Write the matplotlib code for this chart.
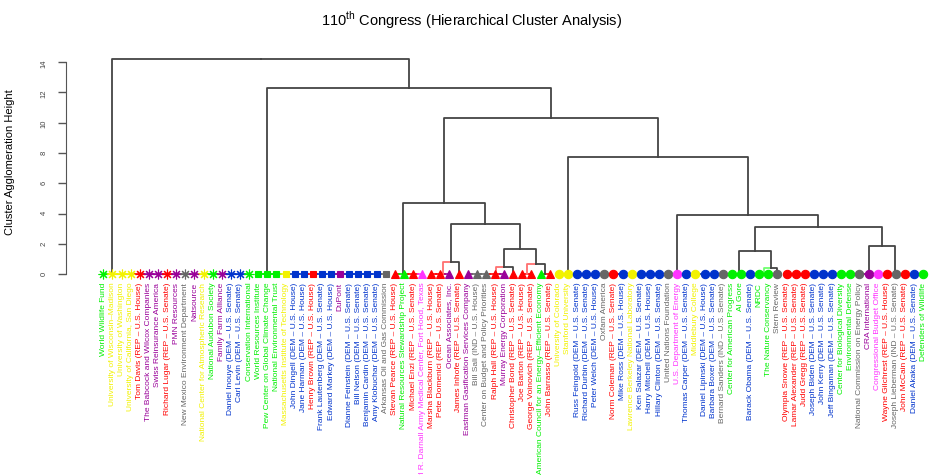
import matplotlib
matplotlib.use('Agg')
import matplotlib.pyplot as plt

plt.rcParams['font.family'] = ['Liberation Sans', 'DejaVu Sans']
plt.rcParams['mathtext.fontset'] = 'custom'
plt.rcParams['mathtext.rm'] = 'Liberation Sans'

# leaf colours
G, Y, R, B = '#00f000', '#f2f200', '#ff0000', '#0033cc'
P, M, K = '#990099', '#ff33ff', '#666666'

stars = [
    ('World Wildlife Fund', G), ('University of Wisconsin\u2013Madison', Y),
    ('University of Washington', Y), ('University of California, San Diego', Y),
    ('Tom Davis (REP \u2013 U.S. House)', R), ('The Babcock and Wilcox Companies', P),
    ('Swiss Reinsurance America', P), ('Richard Lugar (REP \u2013 U.S. Senate)', R),
    ('PMN Resources', P), ('New Mexico Environment Department', K), ('Natsource', P),
    ('National Center for Atmospheric Research', Y), ('National Audubon Society', G),
    ('Family Farm Alliance', P), ('Daniel Inouye (DEM \u2013 U.S. Senate)', B),
    ('Carl Levin (DEM \u2013 U.S. Senate)', B), ('Conservation International', G),
]
squares = [
    ('World Resources Institute', G), ('Pew Center on Global Climate Change', G),
    ('National Environmental Trust', G), ('Massachusetts Institute of Technology', Y),
    ('John Dingell (DEM \u2013 U.S. House)', B), ('Jane Harman (DEM \u2013 U.S. House)', B),
    ('Henry Brown (REP \u2013 U.S. House)', R), ('Frank Lautenberg (DEM \u2013 U.S. Senate)', B),
    ('Edward Markey (DEM \u2013 U.S. House)', B), ('DuPont', P),
    ('Dianne Feinstein (DEM \u2013 U.S. Senate)', B), ('Bill Nelson (DEM \u2013 U.S. Senate)', B),
    ('Benjamin Cardin (DEM \u2013 U.S. Senate)', B), ('Amy Klobuchar (DEM \u2013 U.S. Senate)', B),
    ('Arkansas Oil and Gas Commission', K),
]
triangles = [
    ('Stevan Pearce (REP \u2013 U.S. House)', R), ('Natural Resources Stewardship Project', G),
    ('Michael Enzi (REP \u2013 U.S. Senate)', R),
    ('Carl R. Darnall Army Medical Center, Fort Hood, Texas', M),
    ('Marsha Blackburn (REP \u2013 U.S. House)', R), ('Pete Domenici (REP \u2013 U.S. Senate)', R),
    ('Ocean Associates, Inc.', P), ('James Inhofe (REP \u2013 U.S. Senate)', R),
    ('Eastman Gasification Services Company', P), ('Bill Sali (IND \u2013 U.S. House)', K),
    ('Center on Budget and Policy Priorities', K), ('Ralph Hall (REP \u2013 U.S. House)', R),
    ('Murray Energy Corporation', P), ('Christopher Bond (REP \u2013 U.S. Senate)', R),
    ('Joe Barton (REP \u2013 U.S. House)', R), ('George Voinovich (REP \u2013 U.S. Senate)', R),
    ('American Council for an Energy\u2013Efficient Economy', G),
    ('John Barrasso (REP \u2013 U.S. Senate)', R),
]
circles = [
    ('University of Colorado', Y), ('Stanford University', Y),
    ('Russ Feingold (DEM \u2013 U.S. Senate)', B), ('Richard Durbin (DEM \u2013 U.S. Senate)', B),
    ('Peter Welch (DEM \u2013 U.S. House)', B), ('Oxfam America', K),
    ('Norm Coleman (REP \u2013 U.S. Senate)', R), ('Mike Ross (DEM \u2013 U.S. House)', B),
    ('Lawrence Berkeley National Laboratory', Y), ('Ken Salazar (DEM \u2013 U.S. Senate)', B),
    ('Harry Mitchell (DEM \u2013 U.S. House)', B), ('Hillary Clinton (DEM \u2013 U.S. Senate)', B),
    ('United Nations Foundation', K), ('U.S. Department of Energy', M),
    ('Thomas Carper (DEM \u2013 U.S. Senate)', B), ('Middlebury College', Y),
    ('Daniel Lipinski (DEM \u2013 U.S. House)', B), ('Barbara Boxer (DEM \u2013 U.S. Senate)', B),
    ('Bernard Sanders (IND \u2013 U.S. Senate)', K), ('Center for American Progress', G),
    ('Al Gore', G), ('Barack Obama (DEM \u2013 U.S. Senate)', B), ('NRDC', G),
    ('The Nature Conservancy', G), ('Stern Review', K),
    ('Olympia Snowe (REP \u2013 U.S. Senate)', R), ('Lamar Alexander (REP \u2013 U.S. Senate)', R),
    ('Judd Gregg (REP \u2013 U.S. Senate)', R), ('Joseph Biden (DEM \u2013 U.S. Senate)', B),
    ('John Kerry (DEM \u2013 U.S. Senate)', B), ('Jeff Bingaman (DEM \u2013 U.S. Senate)', B),
    ('Center for Biological Diversity', G), ('Environmental Defense', G),
    ('National Commission on Energy Policy', K), ('CRA International', P),
    ('Congressional Budget Office', M), ('Wayne Gilchrest (REP \u2013 U.S. House)', R),
    ('Joseph Lieberman (IND \u2013 U.S. Senate)', K), ('John McCain (REP \u2013 U.S. Senate)', R),
    ('Daniel Akaka (DEM \u2013 U.S. Senate)', B), ('Defenders of Wildlife', G),
]

# merge tree: leaf = index, ('R'/'L', a, b) = tie chain at height 0 over leaves a..b,
# (height, left, right[, colour of left edge])
tree = (14.16, ('R', 0, 16),
        (12.26, ('R', 17, 31),
         (10.32,
          (4.70, ('R', 32, 35),
           (3.34, (0.83, ('L', 36, 38), 39, '#ff7070'),
            (1.65, (0.48, ('L', 40, 44), 45, '#ff7070'),
             (0.66, ('L', 46, 47), ('R', 48, 49), '#ff7070')))),
          (7.75, ('R', 50, 61),
           (3.89, ('R', 62, 68),
            (3.12, (1.54, ('R', 69, 71), (0.44, ('L', 72, 73), 74, '#70ff70')),
             (1.85, ('L', 75, 85), ('R', 86, 90))))))))

groups = [(stars, (8, 2, 0), 7), (squares, 's', 4.6), (triangles, '^', 5.8), (circles, 'o', 6)]
leaves = [lab for grp, _, _ in groups for lab in grp]
colors = [c for _, c in leaves]
EDGE = '#444444'

fig = plt.figure(figsize=(9.35, 4.75), dpi=100)
ax = fig.add_axes([66 / 935, 0, 1 - 66 / 935, 1])
ax.set_xlim((66 - 103.3) / 9.11, (935 - 103.3) / 9.11)
ax.set_ylim(-(475 - 274.3) / 15.17, 274.3 / 15.17)


def chain_mid(kind, a, b):
    if kind == 'R':
        m = b - 0.5
        for k in range(b - 2, a - 1, -1):
            m = (k + m) / 2
    else:
        m = a + 0.5
        for k in range(a + 2, b + 1):
            m = (m + k) / 2
    return m


def draw(node):
    # returns (x position, height)
    if isinstance(node, int):
        return node, 0.0
    if isinstance(node[0], str):
        kind, a, b = node
        for k in range(a, b):
            ax.plot([k, k + 0.5], [0, 0], color=colors[k], lw=1.2, zorder=1)
            ax.plot([k + 0.5, k + 1], [0, 0], color=colors[k + 1], lw=1.2, zorder=1)
        return chain_mid(kind, a, b), 0.0
    h, left, right = node[:3]
    lcol = node[3] if len(node) > 3 else EDGE
    xl, hl = draw(left)
    xr, hr = draw(right)
    xm = (xl + xr) / 2
    ax.plot([xl, xl, xm], [hl, h, h], color=lcol, lw=1.3, zorder=2)
    ax.plot([xr, xr, xm], [hr, h, h], color=EDGE, lw=1.3, zorder=2)
    return xm, h


draw(tree)

i = 0
for grp, mk, ms in groups:
    for lab, c in grp:
        ax.plot(i, 0, marker=mk, ms=ms, color=c, mec=c, mew=0.8, zorder=3, ls='none')
        ax.text(i, -0.55, lab, rotation=90, ha='center', va='top', fontsize=6.0, color=c)
        i += 1

for s in ['top', 'right', 'bottom']:
    ax.spines[s].set_visible(False)
ax.spines['left'].set_bounds(0, 14)
ax.spines['left'].set_color('#555555')
ax.set_xticks([])
ax.set_yticks(range(0, 15, 2))
ax.tick_params(axis='y', length=6, width=1, color='#555555', labelsize=5.5,
               labelcolor='#444444', labelrotation=90, pad=7)
ax.patch.set_visible(False)

fig.text(0.011, 1 - 162 / 475, 'Cluster Agglomeration Height', rotation=90,
         ha='center', va='center', fontsize=8)
fig.text(0.504, 1 - 20 / 475, r'110$^{\rm th}$ Congress (Hierarchical Cluster Analysis)',
         ha='center', va='center', fontsize=10.5)

fig.savefig('out.png', dpi=100)
